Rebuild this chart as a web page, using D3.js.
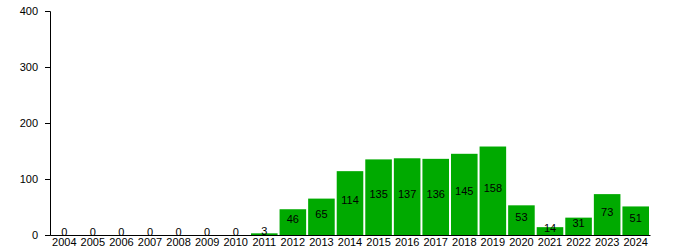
<!DOCTYPE html>
<html><head><meta charset="utf-8">
<script src="https://cdn.jsdelivr.net/npm/d3@7"></script>
<style>body{margin:0;background:#fff}text{font-family:"Liberation Sans",Arial,sans-serif}</style>
</head><body>
<svg id="c" width="680" height="250"></svg>
<script>
const years = ["2004","2005","2006","2007","2008","2009","2010","2011","2012","2013","2014","2015","2016","2017","2018","2019","2020","2021","2022","2023","2024"];
const counts = [0,0,0,0,0,0,0,3,46,65,114,135,137,136,145,158,53,14,31,73,51];
const yTicks = [0,100,200,300,400];

const svg = d3.select("#c");
const m = {l:50, r:30, t:11, b:15};
const W = 680, H = 250;
const x = d3.scaleBand().domain(years).range([m.l, W - m.r]).paddingInner(0.07).paddingOuter(0.035);
const y = d3.scaleLinear().domain([0,400]).range([H - m.b, m.t]);

svg.selectAll("rect.bar").data(years).enter().append("rect")
  .attr("x", d => x(d)).attr("width", x.bandwidth())
  .attr("y", (d,i) => y(counts[i])).attr("height", (d,i) => y(0) - y(counts[i]))
  .attr("fill", "#00aa00");

svg.selectAll("text.val").data(years).enter().append("text")
  .attr("x", d => x(d) + x.bandwidth()/2)
  .attr("y", (d,i) => (y(counts[i]) + y(0))/2 + 1)
  .attr("text-anchor", "middle").attr("font-size", 11).attr("fill", "#000")
  .text((d,i) => counts[i]);

const ya = svg.append("g").attr("transform", `translate(${m.l},0)`)
  .call(d3.axisLeft(y).tickValues(yTicks).tickSize(5).tickPadding(7));
ya.selectAll("text").attr("font-size", 11).attr("font-family", "Liberation Sans, Arial, sans-serif");
ya.select(".domain").attr("stroke", "#000");

const xa = svg.append("g").attr("transform", `translate(0,${y(0)})`)
  .call(d3.axisBottom(x).tickSize(0).tickPadding(3).tickSizeOuter(0));
xa.selectAll("text").attr("font-size", 11).attr("font-family", "Liberation Sans, Arial, sans-serif");
xa.select(".domain").attr("stroke", "#000");
</script>
</body></html>
